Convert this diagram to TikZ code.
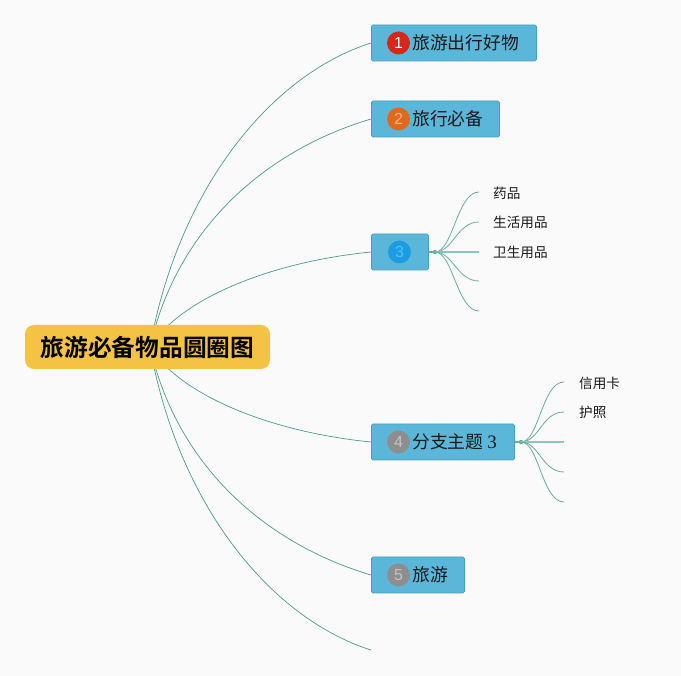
\documentclass[tikz,border=0pt]{standalone}
\usepackage{fontspec}
\setmainfont{Liberation Sans}
\newfontfamily\cjk[BoldFont={Noto Sans CJK SC Bold}]{Noto Sans CJK SC}
\newfontfamily\serifnum{Liberation Serif}
\usetikzlibrary{backgrounds}
\definecolor{bgc}{HTML}{FAFAFA}
\definecolor{linec}{HTML}{4F9A8B}
\definecolor{sublinec}{HTML}{6AAE9F}
\definecolor{midlinec}{HTML}{8CC6B8}
\definecolor{boxfill}{HTML}{5BB7DA}
\definecolor{boxdraw}{HTML}{4A9EBE}
\definecolor{rootfill}{HTML}{F5C344}
\definecolor{bred}{HTML}{D8261C}
\definecolor{borange}{HTML}{E2691C}
\definecolor{borangetxt}{HTML}{F3B58A}
\definecolor{bblue}{HTML}{1C9DE3}
\definecolor{bbluetxt}{HTML}{52C0F2}
\definecolor{bgray}{HTML}{8E8E8E}
\definecolor{bgraytxt}{HTML}{C4C4C4}
\tikzset{
  topicbox/.style={draw=boxdraw, fill=boxfill, line width=0.8pt, rounded corners=1.5pt,
    minimum height=36pt, inner sep=0pt, anchor=west},
  badge/.style={circle, inner sep=0pt, minimum size=23pt,
    font=\fontsize{16}{16}\selectfont},
  lbl/.style={anchor=west, inner sep=0pt, font=\cjk\fontsize{17.8}{20}\selectfont, text=black!90},
  sublbl/.style={anchor=west, inner sep=0pt, font=\cjk\fontsize{13.6}{15}\selectfont, text=black!90},
  conn/.style={draw=linec, line width=0.7pt},
  subconn/.style={draw=sublinec, line width=0.8pt},
  midconn/.style={draw=midlinec, line width=1.4pt},
}
\begin{document}
\begin{tikzpicture}[x=1pt,y=-1pt]
\useasboundingbox (0,0) rectangle (681,676);
% root
\node[fill=rootfill, rounded corners=9pt, minimum width=245pt, minimum height=44pt,
  inner sep=0pt, font=\cjk\bfseries\fontsize{23.7}{26}\selectfont] (root) at (147.5,347) {旅游必备物品圆圈图};
\coordinate (hub) at (150,347);
% topic 1
\node[topicbox, minimum width=165pt] (n1) at (371,43) {};
\node[badge, fill=bred, text=white] (b1) at (398.5,43) {1};
\node[lbl] (t1) at (412,43) {旅游出行好物};
% topic 2
\node[topicbox, minimum width=128pt] (n2) at (371,119) {};
\node[badge, fill=borange, text=borangetxt] (b2) at (398.5,119) {2};
\node[lbl] (t2) at (412,119) {旅行必备};
% topic 3
\node[topicbox, minimum width=57pt] (n3) at (371,252) {};
\node[badge, fill=bblue, text=bbluetxt] (b3) at (399.5,252) {3};
% topic 4
\node[topicbox, minimum width=143pt] (n4) at (371,442) {};
\node[badge, fill=bgray, text=bgraytxt] (b4) at (398.5,442) {4};
\node[lbl] (t4) at (412,442) {分支主题 {\serifnum\fontsize{19}{20}\selectfont 3}};
% topic 5
\node[topicbox, minimum width=93pt] (n5) at (371,575) {};
\node[badge, fill=bgray, text=bgraytxt] (b5) at (398.5,575) {5};
\node[lbl] (t5) at (412,575) {旅游};
\coordinate (e6) at (371,650);
% sub-branches of topic 3
\coordinate (j3) at (435,252);
\coordinate (s31) at (479,192);
\coordinate (s32) at (479,222);
\coordinate (s33) at (479,252);
\coordinate (s34) at (479,281);
\coordinate (s35) at (479,311);
\node[sublbl] (l31) at (493,193) {药品};
\node[sublbl] (l32) at (493,222) {生活用品};
\node[sublbl] (l33) at (493,252) {卫生用品};
% sub-branches of topic 4
\coordinate (j4) at (521,442);
\coordinate (s41) at (564,382);
\coordinate (s42) at (564,412);
\coordinate (s43) at (564,442);
\coordinate (s44) at (564,472);
\coordinate (s45) at (564,502);
\node[sublbl] (l41) at (579,383) {信用卡};
\node[sublbl] (l42) at (579,412) {护照};

\begin{pgfonlayer}{background}
\fill[bgc] (0,0) rectangle (681,676);
\draw[conn] (hub) .. controls +(28,-157) and +(-101,32) .. (n1.west);
\draw[conn] (hub) .. controls +(28,-123) and +(-101,30) .. (n2.west);
\draw[conn] (hub) .. controls +(30,-48) and +(-101,10) .. (n3.west);
\draw[conn] (hub) .. controls +(30,48) and +(-101,-10) .. (n4.west);
\draw[conn] (hub) .. controls +(28,123) and +(-101,-30) .. (n5.west);
\draw[conn] (hub) .. controls +(28,157) and +(-101,-32) .. (e6);
% topic 3 subs
\draw[sublinec, line width=1.6pt] (n3.east) -- (j3);
\fill[sublinec] (j3) circle (2.2pt);
\draw[subconn] (j3) .. controls +(18,0) and +(-22,0) .. (s31);
\draw[subconn] (j3) .. controls +(18,0) and +(-22,0) .. (s32);
\draw[midconn] (j3) -- (s33);
\draw[subconn] (j3) .. controls +(18,0) and +(-22,0) .. (s34);
\draw[subconn] (j3) .. controls +(18,0) and +(-22,0) .. (s35);
% topic 4 subs
\draw[sublinec, line width=1.6pt] (n4.east) -- (j4);
\fill[sublinec] (j4) circle (2.2pt);
\draw[subconn] (j4) .. controls +(18,0) and +(-22,0) .. (s41);
\draw[subconn] (j4) .. controls +(18,0) and +(-22,0) .. (s42);
\draw[midconn] (j4) -- (s43);
\draw[subconn] (j4) .. controls +(18,0) and +(-22,0) .. (s44);
\draw[subconn] (j4) .. controls +(18,0) and +(-22,0) .. (s45);
\end{pgfonlayer}
\end{tikzpicture}
\end{document}
